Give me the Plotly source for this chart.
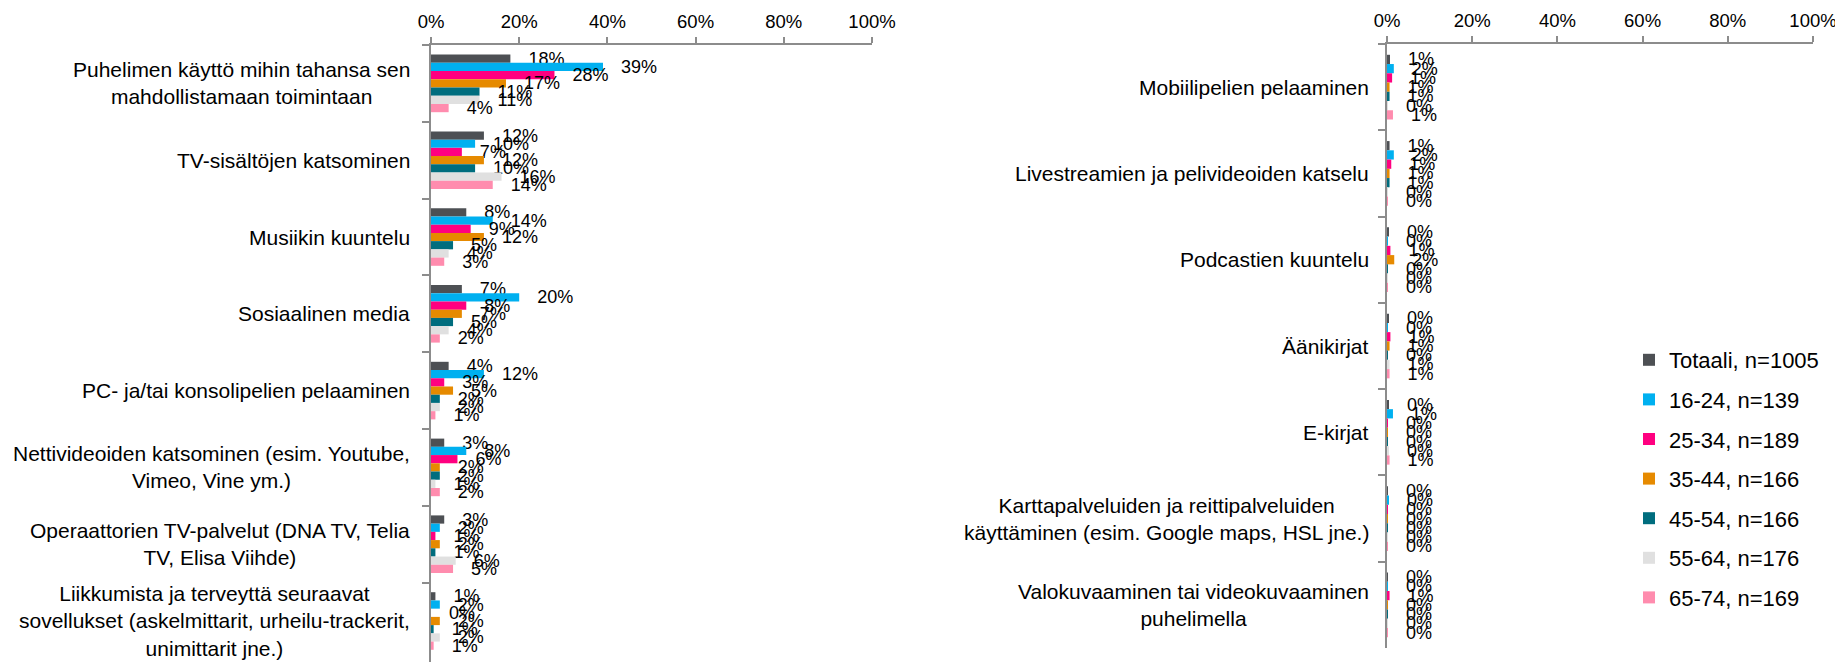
import plotly.graph_objects as go

# ---------------- data ----------------
series_names = ["Totaali, n=1005", "16-24, n=139", "25-34, n=189", "35-44, n=166",
                "45-54, n=166", "55-64, n=176", "65-74, n=169"]
series_colors = ["#4D5054", "#00B0F0", "#FF0080", "#E68A00", "#006D7E", "#E0E0E0", "#FF8CAE"]

left_categories = [
    "Puhelimen käyttö mihin tahansa sen<br>mahdollistamaan toimintaan",
    "TV-sisältöjen katsominen",
    "Musiikin kuuntelu",
    "Sosiaalinen media",
    "PC- ja/tai konsolipelien pelaaminen",
    "Nettivideoiden katsominen (esim. Youtube,<br>Vimeo, Vine ym.)",
    "Operaattorien TV-palvelut (DNA TV, Telia<br>TV, Elisa Viihde)",
    "Liikkumista ja terveyttä seuraavat<br>sovellukset (askelmittarit, urheilu-trackerit,<br>unimittarit jne.)",
]
right_categories = [
    "Mobiilipelien pelaaminen",
    "Livestreamien ja pelivideoiden katselu",
    "Podcastien kuuntelu",
    "Äänikirjat",
    "E-kirjat",
    "Karttapalveluiden ja reittipalveluiden<br>käyttäminen (esim. Google maps, HSL jne.)",
    "Valokuvaaminen tai videokuvaaminen<br>puhelimella",
]

# values in percent, one list per series (order follows categories)
left_totaali = [18, 12, 8, 7, 4, 3, 3, 1]
left_16_24 = [39, 10, 14, 20, 12, 8, 2, 2]
left_25_34 = [28, 7, 9, 8, 3, 6, 1, 0]
left_35_44 = [17, 12, 12, 7, 5, 2, 2, 2]
left_45_54 = [11, 10, 5, 5, 2, 2, 1, 0.6]
left_55_64 = [11, 16, 4, 4, 2, 1, 5.6, 2]
left_65_74 = [4, 14, 3, 2, 1, 2, 5, 0.6]

right_totaali = [0.7, 0.6, 0.4, 0.4, 0.3, 0.2, 0.2]
right_16_24 = [1.6, 1.6, 0.2, 0.2, 1.4, 0.4, 0.2]
right_25_34 = [1.2, 1.0, 0.8, 0.8, 0.2, 0.2, 0.6]
right_35_44 = [0.6, 0.6, 1.7, 0.6, 0.2, 0.2, 0.2]
right_45_54 = [0.6, 0.6, 0.2, 0.2, 0.2, 0.2, 0.2]
right_55_64 = [0.2, 0.1, 0.2, 0.6, 0.4, 0.2, 0.2]
right_65_74 = [1.4, 0.2, 0.2, 0.6, 0.6, 0.2, 0.2]

left_values = [left_totaali, left_16_24, left_25_34, left_35_44, left_45_54, left_55_64, left_65_74]
right_values = [right_totaali, right_16_24, right_25_34, right_35_44, right_45_54, right_55_64, right_65_74]

x_ticks = [0, 20, 40, 60, 80, 100]
x_tick_labels = ["0%", "20%", "40%", "60%", "80%", "100%"]

# ---------------- figure ----------------
FONT = "Arial, 'Liberation Sans', sans-serif"
W, H = 1843, 662
PAGE_OFF = 8  # default body margin of the html page
AX = "#8C8C8C"


def fx(xpage):
    return (xpage - PAGE_OFF) / W


def fy(ypage):
    return 1 - (ypage - PAGE_OFF) / H


fig = go.Figure()

for i, name in enumerate(series_names):
    for panel, (cats, vals) in enumerate([(left_categories, left_values[i]), (right_categories, right_values[i])]):
        fig.add_trace(go.Bar(
            x=vals, y=cats, orientation="h", name=name,
            marker=dict(color=series_colors[i], line=dict(width=0)),
            xaxis="x" if panel == 0 else "x2",
            yaxis="y" if panel == 0 else "y2",
            texttemplate="\u00a0\u00a0\u00a0%{x:.0f}%",
            textposition="outside", textangle=0, constraintext="none", cliponaxis=False,
            textfont=dict(family=FONT, size=18, color="black"),
            showlegend=(panel == 0), legendgroup=name,
            hoverinfo="skip",
        ))

xcommon = dict(range=[x_ticks[0], x_ticks[-1]], tickmode="array", tickvals=x_ticks, ticktext=x_tick_labels,
               side="top", showgrid=False, zeroline=False, showline=True, linecolor=AX, linewidth=2,
               ticks="outside", ticklen=6, tickcolor=AX, tickwidth=2, ticklabelstandoff=2,
               tickfont=dict(family=FONT, size=18.5, color="black"), fixedrange=True, automargin=False)
ycommon = dict(type="category", autorange="reversed", showgrid=False, zeroline=False,
               showline=True, linecolor=AX, linewidth=2, ticks="outside", tickson="boundaries",
               ticklen=7, tickcolor=AX, tickwidth=2, showticklabels=False, fixedrange=True,
               automargin=False)

fig.update_layout(
    template="none",
    width=W, height=H, margin=dict(l=0, r=0, t=0, b=0, pad=0, autoexpand=False),
    paper_bgcolor="white", plot_bgcolor="white",
    barmode="group", bargap=0.25, bargroupgap=0,
    font=dict(family=FONT, color="black"),
    xaxis=dict(domain=[fx(431), fx(872)], anchor="y", **xcommon),
    yaxis=dict(domain=[max(0, fy(662)), fy(45)], anchor="x", **ycommon),
    xaxis2=dict(domain=[fx(1387), fx(1813)], anchor="y2", **xcommon),
    yaxis2=dict(domain=[fy(648), fy(44)], anchor="x2", **ycommon),
    legend=dict(x=fx(1629), y=fy(339), xanchor="left", yanchor="top",
                font=dict(family=FONT, size=22, color="black"), tracegroupgap=8,
                bgcolor="rgba(0,0,0,0)", borderwidth=0),
    showlegend=True,
)

annotations = []
for cat in left_categories:
    annotations.append(dict(x=0, xref="x domain", y=cat, yref="y", text=cat, showarrow=False,
                            xanchor="right", yanchor="middle", align="center", xshift=-19,
                            font=dict(family=FONT, size=21, color="black")))
for cat in right_categories:
    annotations.append(dict(x=0, xref="x2 domain", y=cat, yref="y2", text=cat, showarrow=False,
                            xanchor="right", yanchor="middle", align="center", xshift=-16,
                            font=dict(family=FONT, size=21, color="black")))
fig.update_layout(annotations=annotations)

fig.write_html("out.html")
